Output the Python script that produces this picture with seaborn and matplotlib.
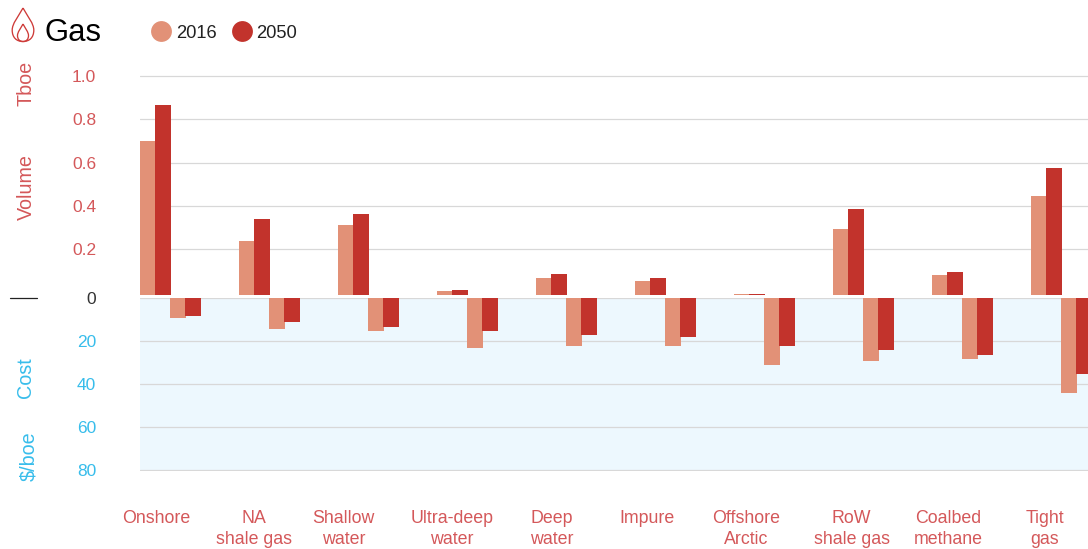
import numpy as np
import pandas as pd
import matplotlib
matplotlib.use("Agg")
import matplotlib.pyplot as plt
from matplotlib.lines import Line2D
from matplotlib.patches import PathPatch
from matplotlib.path import Path
import seaborn as sns

# Resource classes and their two-line axis captions
categories = ["Onshore", "NA\nshale gas", "Shallow\nwater", "Ultra-deep\nwater", "Deep\nwater",
              "Impure", "Offshore\nArctic", "RoW\nshale gas", "Coalbed\nmethane", "Tight\ngas"]

# Volume in Tboe
volume_2016 = [0.711, 0.249, 0.323, 0.018, 0.079, 0.065, 0.005, 0.305, 0.092, 0.457]
volume_2050 = [0.878, 0.351, 0.374, 0.023, 0.097, 0.079, 0.005, 0.397, 0.106, 0.587]

# Cost in $/boe
cost_2016 = [9.3, 14.4, 15.3, 23.3, 22.3, 22.3, 31.2, 29.3, 28.4, 44.2]
cost_2050 = [8.4, 11.2, 13.5, 15.3, 17.2, 18.1, 22.3, 24.2, 26.5, 35.3]

volume_ticks = [0.2, 0.4, 0.6, 0.8, 1.0]
cost_ticks = [0, 20, 40, 60, 80]

PALE = "#E29177"
DEEP = "#C2332C"
RED_TEXT = "#D4585A"
BLUE_TEXT = "#38BDEB"
GRID = "#D8D8D8"
PANEL = "#EDF8FE"

sns.set_theme(style="white")
plt.rcParams["font.family"] = ["Liberation Sans", "DejaVu Sans"]

W, H = 1088, 549
fig = plt.figure(figsize=(W / 100, H / 100), dpi=100, facecolor="white")


def axes_px(left, top, right, bottom):
    """Create axes from pixel edges measured from the top-left corner."""
    return fig.add_axes([left / W, 1 - bottom / H, (right - left) / W, (bottom - top) / H])


PLOT_LEFT = 140
GROUP_STEP = 99  # pixels between neighbouring resource groups
BAR_WIDTH = 16 / GROUP_STEP
slots = np.arange(len(categories))
x_limits = (0, (W - PLOT_LEFT) / GROUP_STEP)


def px_x(px):
    return (px - PLOT_LEFT) / GROUP_STEP


def draw_series(ax, offset_px, values, color):
    frame = pd.DataFrame({"slot": slots + offset_px / GROUP_STEP, "value": values})
    sns.barplot(data=frame, x="slot", y="value", native_scale=True, width=BAR_WIDTH,
                color=color, saturation=1, linewidth=0, ax=ax, zorder=3)


# Volume panel: bars rise from the panel floor, gridlines sit slightly above their nominal value
ax_vol = axes_px(PLOT_LEFT, 60, W, 295)
VOL_SCALE = 216.5
GRID_LIFT = 2.4 / VOL_SCALE
draw_series(ax_vol, 8, volume_2016, PALE)
draw_series(ax_vol, 23, volume_2050, DEEP)
ax_vol.set_xlim(*x_limits)
ax_vol.set_ylim(0, 235 / VOL_SCALE)
ax_vol.set_xticks([])
ax_vol.set_yticks(np.array(volume_ticks) + GRID_LIFT, labels=[f"{t:.1f}" for t in volume_ticks])
ax_vol.tick_params(axis="y", length=0, pad=31.5, labelsize=12.5, labelcolor=RED_TEXT)
ax_vol.grid(axis="y", color=GRID, linewidth=0.9)
ax_vol.set_axisbelow(True)
ax_vol.set_xlabel("")
ax_vol.set_ylabel("")
sns.despine(ax=ax_vol, left=True, bottom=True)

# Cost panel: inverted axis on a pale blue ground
ax_cost = axes_px(PLOT_LEFT, 298, W, 471)
ax_cost.set_facecolor(PANEL)
draw_series(ax_cost, 38, cost_2016, PALE)
draw_series(ax_cost, 53, cost_2050, DEEP)
ax_cost.set_xlim(*x_limits)
ax_cost.set_ylim(173 / 2.153, 0)
ax_cost.set_yticks(cost_ticks, labels=[str(t) for t in cost_ticks])
ax_cost.tick_params(axis="y", length=0, pad=31.5, labelsize=12.5, labelcolor=BLUE_TEXT)
ax_cost.get_yticklabels()[0].set_color("#333333")
ax_cost.grid(axis="y", color=GRID, linewidth=0.9)
ax_cost.set_axisbelow(True)
ax_cost.set_ylabel("")
label_centres = [156, 254, 343.5, 452, 552, 647, 746, 851.5, 948, 1045]
ax_cost.set_xticks([px_x(p) for p in label_centres], labels=categories)
ax_cost.tick_params(axis="x", length=0, pad=28, labelsize=12.8, labelcolor=RED_TEXT)
for tick in ax_cost.get_xticklabels():
    tick.set_linespacing(1.28)
ax_cost.set_xlabel("")
sns.despine(ax=ax_cost, left=True, bottom=True)

# Overlay in pixel coordinates for the header and the side captions
overlay = fig.add_axes([0, 0, 1, 1], facecolor="none")
overlay.set_xlim(0, W)
overlay.set_ylim(H, 0)
overlay.axis("off")


def flame(cx, top, bottom, half):
    """Teardrop outline with its tip at the top."""
    mid = top + (bottom - top) * 0.66
    codes = [Path.MOVETO] + [Path.CURVE4] * 12
    verts = [(cx, top),
             (cx + half * 0.45, top + (mid - top) * 0.4), (cx + half, mid - (mid - top) * 0.3), (cx + half, mid),
             (cx + half, bottom - (bottom - mid) * 0.35), (cx + half * 0.6, bottom), (cx, bottom),
             (cx - half * 0.6, bottom), (cx - half, bottom - (bottom - mid) * 0.35), (cx - half, mid),
             (cx - half, mid - (mid - top) * 0.3), (cx - half * 0.45, top + (mid - top) * 0.4), (cx, top)]
    return PathPatch(Path(verts, codes), facecolor="none", edgecolor="#CE3B39", linewidth=0.95)


overlay.add_patch(flame(23, 8, 41.5, 10.8))
overlay.add_patch(flame(23, 24, 41.5, 5.5))
overlay.text(45, 33, "Gas", fontsize=22.3, color="black", va="center", ha="left")

# Short rule marking the shared zero of both panels
overlay.add_line(Line2D([10, 37], [298, 298], color="#222222", linewidth=0.9))

for text, x, y, colour in [("Tboe", 26, 83, RED_TEXT), ("Volume", 26, 187.5, RED_TEXT),
                           ("Cost", 26, 377.5, BLUE_TEXT), ("$/boe", 29, 456, BLUE_TEXT)]:
    overlay.text(x, y, text, rotation=90, fontsize=14.2, color=colour, ha="center", va="center")

handles = [Line2D([], [], linestyle="none", marker="o", markersize=15, markeredgewidth=0, color=c)
           for c in (PALE, DEEP)]
fig.legend(handles, ["2016", "2050"], loc="center left", bbox_to_anchor=(143 / W, 1 - 33 / H),
           ncol=2, frameon=False, prop={"size": 13.2}, handletextpad=-0.2,
           columnspacing=0.36, labelcolor="#222222", borderpad=0, borderaxespad=0)

fig.savefig("out.png", dpi=100, facecolor="white")
